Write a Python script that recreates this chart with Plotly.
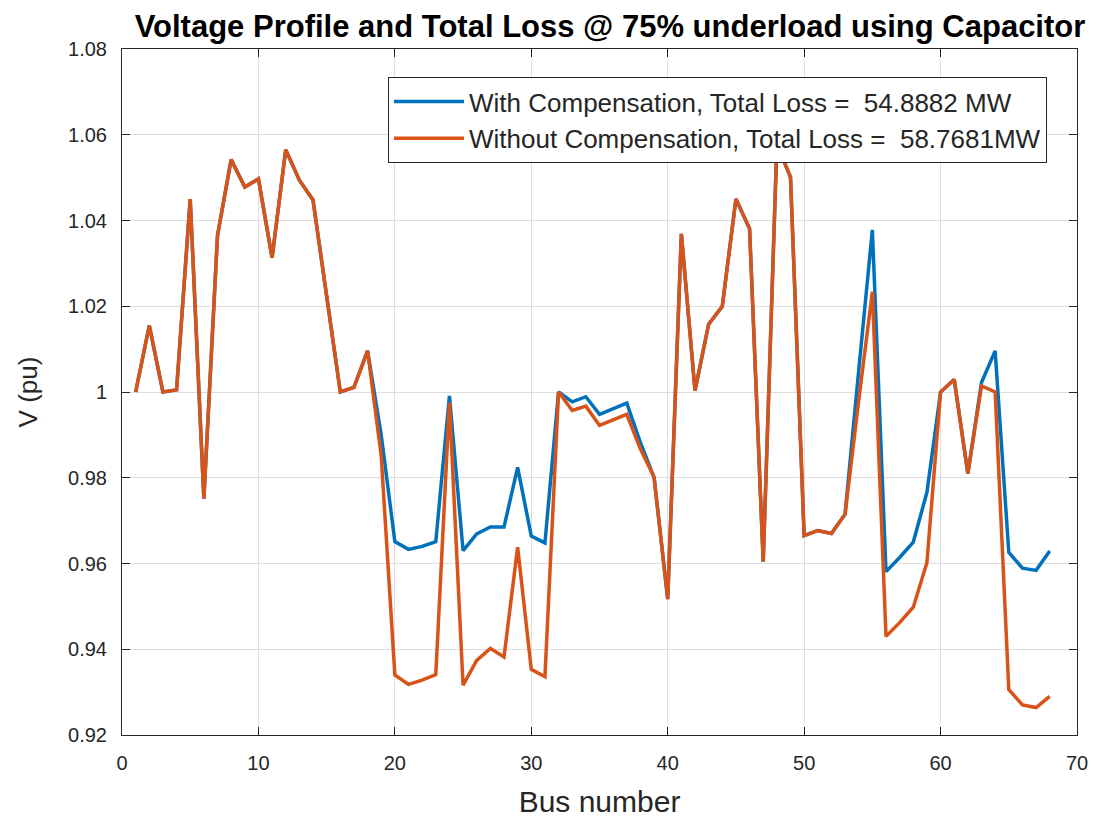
import plotly.graph_objects as go

bus = list(range(1, 69))

v_without = [
    1.000, 1.0155, 1.000, 1.0005, 1.045, 0.9751, 1.0365, 1.0542, 1.0478, 1.0497,
    1.0313, 1.0565, 1.0494, 1.0448, 1.0224, 1.000, 1.0011, 1.0096, 0.9851, 0.9340,
    0.9318, 0.9328, 0.9341, 0.9975, 0.9316, 0.9374, 0.9402, 0.9382, 0.9638, 0.9353,
    0.9336, 1.000, 0.9957, 0.9967, 0.9922, 0.9936, 0.9948, 0.9867, 0.9801, 0.9517,
    1.0369, 1.0003, 1.0158, 1.0200, 1.0450, 1.0381, 0.9604, 1.0578, 1.0501, 0.9665,
    0.9677, 0.9670, 0.9715, 0.998, 1.0234, 0.9430, 0.9462, 0.9498, 0.9602, 1.000,
    1.0029, 0.981, 1.0014, 1.000, 0.9306, 0.9270, 0.9264, 0.9290,
]

v_with = [
    1.000, 1.0155, 1.000, 1.0005, 1.045, 0.9751, 1.0365, 1.0542, 1.0478, 1.0497,
    1.0313, 1.0565, 1.0494, 1.0448, 1.0224, 1.000, 1.0011, 1.0096, 0.9900, 0.9651,
    0.9633, 0.9640, 0.9651, 0.9991, 0.9630, 0.9669, 0.9685, 0.9685, 0.9824, 0.9664,
    0.9648, 1.000, 0.9977, 0.9989, 0.9948, 0.9961, 0.9974, 0.9882, 0.9801, 0.9517,
    1.0369, 1.0003, 1.0158, 1.0200, 1.0450, 1.0381, 0.9604, 1.0578, 1.0501, 0.9665,
    0.9677, 0.9670, 0.9715, 1.005, 1.0378, 0.9581, 0.9614, 0.9650, 0.9766, 1.000,
    1.0029, 0.981, 1.0022, 1.0096, 0.9626, 0.9589, 0.9584, 0.9629,
]

loss_with = "54.8882 MW"
loss_without = "58.7681MW"

x_ticks = [0, 10, 20, 30, 40, 50, 60, 70]
y_ticks = [0.92, 0.94, 0.96, 0.98, 1.00, 1.02, 1.04, 1.06, 1.08]
y_tick_labels = ["0.92", "0.94", "0.96", "0.98", "1", "1.02", "1.04", "1.06", "1.08"]

FONT = "Liberation Sans, Arial, Helvetica, sans-serif"
TXT = "#262626"

fig = go.Figure()
fig.add_trace(go.Scatter(
    x=bus, y=v_with, mode="lines",
    name="With Compensation, Total Loss =  " + loss_with,
    line=dict(color="#0072BD", width=3.5),
))
fig.add_trace(go.Scatter(
    x=bus, y=v_without, mode="lines",
    name="Without Compensation, Total Loss =  " + loss_without,
    line=dict(color="#D95319", width=3.5),
))

axis_common = dict(
    showline=True, linecolor=TXT, linewidth=1, mirror="ticks",
    ticks="inside", ticklen=8, tickcolor=TXT, tickwidth=1,
    showgrid=True, gridcolor="#dedede", gridwidth=1,
    zeroline=False, automargin=False,
    tickfont=dict(family=FONT, size=20, color=TXT),
    ticklabelstandoff=10,
)

fig.update_layout(
    width=1104, height=811,
    margin=dict(l=114, r=35, t=41, b=84),
    paper_bgcolor="white", plot_bgcolor="white",
    title=dict(
        text="<b>Voltage Profile and Total Loss @ 75% underload using Capacitor</b>",
        x=0.511, xref="paper", xanchor="center",
        y=1 - 18 / 811, yref="container", yanchor="middle",
        font=dict(family=FONT, size=31, color="black"),
    ),
    showlegend=True,
    legend=dict(
        x=0.9686, xanchor="right", y=0.959, yanchor="top",
        bgcolor="white", bordercolor=TXT, borderwidth=1,
        font=dict(family=FONT, size=26, color=TXT),
        itemwidth=70, tracegroupgap=0,
    ),
    xaxis=dict(
        range=[0, 70], tickvals=x_ticks,
        title=dict(text="Bus number", font=dict(family=FONT, size=30, color=TXT), standoff=17),
        **axis_common,
    ),
    yaxis=dict(
        range=[0.92, 1.08], tickvals=y_ticks, ticktext=y_tick_labels,
        title=dict(text="V (pu)", font=dict(family=FONT, size=26, color=TXT), standoff=22),
        **axis_common,
    ),
)

fig.write_html("out.html")
